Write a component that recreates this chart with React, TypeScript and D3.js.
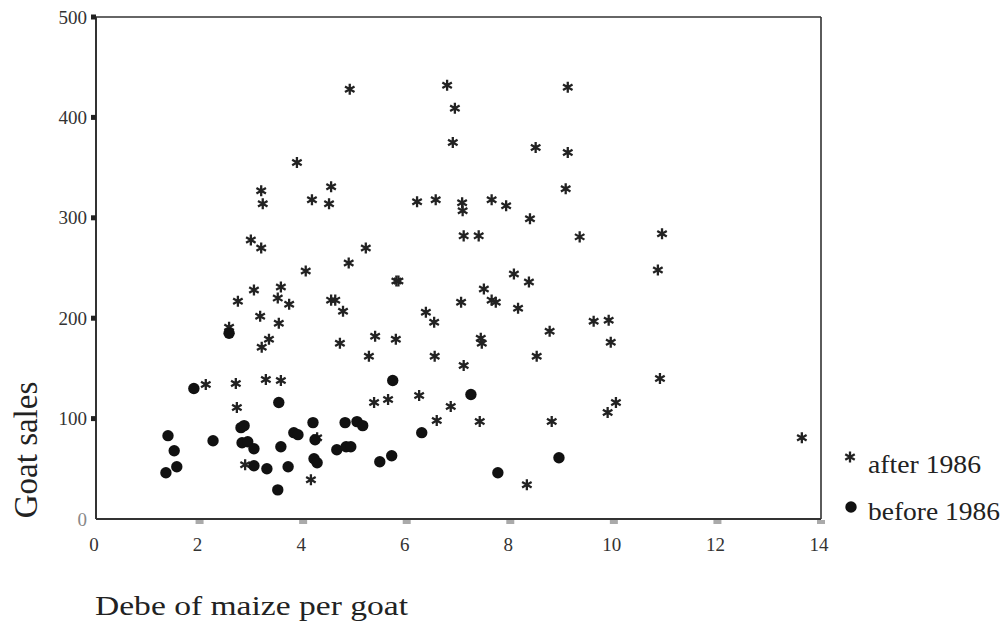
import React from "react";
import * as d3 from "d3";

// after 1986 (stars)
const afterX = [3.88,3.19,3.22,4.17,4.54,4.50,2.99,3.19,4.05,4.88,4.90,6.78,6.93,6.89,8.49,9.11,9.11,9.07,6.20,6.56,7.07,7.08,7.64,7.92,8.38,7.10,7.39,9.34,5.21,5.80,5.84,8.07,8.36,7.49,7.64,7.72,7.05,8.15,6.37,6.53,8.76,5.39,5.79,7.43,7.45,5.27,6.54,8.51,7.10,4.77,4.71,4.54,4.62,9.61,9.90,9.94,10.85,10.93,10.89,13.63,5.37,5.64,6.24,6.85,6.58,7.41,8.80,10.04,9.88,8.32,3.05,3.57,2.74,3.51,3.73,3.17,3.53,3.34,3.20,2.57,2.12,2.70,3.28,3.57,2.72,2.88,4.15,4.27];
const afterY = [355,327,314,318,331,314,278,270,247,255,428,432,409,375,370,430,365,329,316,318,315,307,318,312,299,282,282,281,270,237,237,244,236,229,218,216,216,210,206,196,187,182,179,180,175,162,162,162,153,207,175,218,218,197,198,176,248,284,140,81,116,119,123,112,98,97,97,116,106,34,228,231,217,220,214,202,195,179,171,191,134,135,139,138,111,54,39,81];

// before 1986 (circles)
const beforeX = [1.89,2.57,3.53,1.39,1.51,1.56,1.35,2.26,2.80,2.86,2.82,2.93,3.05,3.57,3.05,3.30,3.71,3.51,3.82,3.90,4.19,4.23,4.21,4.27,4.81,5.04,5.15,4.65,4.83,4.92,5.48,5.71,5.73,7.24,6.29,7.76,8.94];
const beforeY = [130,185,116,83,68,52,46,78,91,93,76,77,70,72,53,50,52,29,86,84,96,79,60,56,96,97,93,69,72,72,57,63,138,124,86,46,61];

const xTicks = [0, 2, 4, 6, 8, 10, 12, 14];
const yTicks = [0, 100, 200, 300, 400, 500];
const seriesLabels = ["after 1986", "before 1986"];
const xTitle = "Debe of maize per goat";
const yTitle = "Goat sales";

const W = 1006, H = 628;
const L = 96, R = 821, T = 17, B = 519;

export default function App() {
  const x = d3.scaleLinear().domain([0, 14]).range([L, R]);
  const y = d3.scaleLinear().domain([0, 500]).range([B, T]);
  const star = d3.symbol().type(d3.symbolAsterisk).size(85)() as string;
  const font = "'Liberation Serif', 'Times New Roman', Times, serif";
  return (
    <svg width={W} height={H} style={{ position: "absolute", left: 0, top: 0, background: "#fff" }}>
      <rect x={0} y={0} width={W} height={H} fill="#fff" />
      {/* frame */}
      <line x1={L} y1={T} x2={R} y2={T} stroke="#333" strokeWidth={1.6} />
      <line x1={R} y1={T} x2={R} y2={B} stroke="#333" strokeWidth={1.6} />
      <line x1={L} y1={T} x2={L} y2={B} stroke="#333" strokeWidth={2} />
      <line x1={L} y1={B} x2={R} y2={B} stroke="#333" strokeWidth={2} />
      {/* y ticks */}
      {yTicks.map((t) => (
        <g key={"y" + t}>
          {t > 0 && <rect x={L - 5} y={y(t) - 2.5} width={5} height={5} fill="#222" />}
          <text x={L - 9} y={y(t)} dy="0.35em" textAnchor="end" style={{ fontFamily: font }} fontSize={19} fill={t === 0 ? "#888" : "#333"}>
            {t}
          </text>
        </g>
      ))}
      {/* x ticks */}
      {xTicks.map((t) => (
        <g key={"x" + t}>
          {t > 0 && <rect x={x(t) - 4} y={B + 1} width={8} height={4} fill="#aaa" />}
          <text x={x(t) - 2} y={551} textAnchor="middle" style={{ fontFamily: font }} fontSize={19} fill="#333">
            {t}
          </text>
        </g>
      ))}
      {/* points */}
      {afterX.map((v, i) => (
        <path key={"a" + i} d={star} transform={`translate(${x(v)},${y(afterY[i])})`} stroke="#222" strokeWidth={2.3} fill="none" />
      ))}
      {beforeX.map((v, i) => (
        <circle key={"b" + i} cx={x(v)} cy={y(beforeY[i])} r={5.7} fill="#111" />
      ))}
      {/* legend */}
      <path d={star} transform="translate(850,457)" stroke="#222" strokeWidth={2.3} fill="none" />
      <text x={868} y={473} style={{ fontFamily: font }} fontSize={26} fill="#222" textLength={113} lengthAdjust="spacingAndGlyphs">
        {seriesLabels[0]}
      </text>
      <circle cx={851} cy={507} r={5.7} fill="#111" />
      <text x={868} y={520} style={{ fontFamily: font }} fontSize={26} fill="#222" textLength={132} lengthAdjust="spacingAndGlyphs">
        {seriesLabels[1]}
      </text>
      {/* titles */}
      <text x={95} y={615} style={{ fontFamily: font }} fontSize={28} fill="#222" textLength={313} lengthAdjust="spacingAndGlyphs">
        {xTitle}
      </text>
      <text transform="translate(37,450) rotate(-90)" textAnchor="middle" style={{ fontFamily: font }} fontSize={33} fill="#222">
        {yTitle}
      </text>
    </svg>
  );
}
